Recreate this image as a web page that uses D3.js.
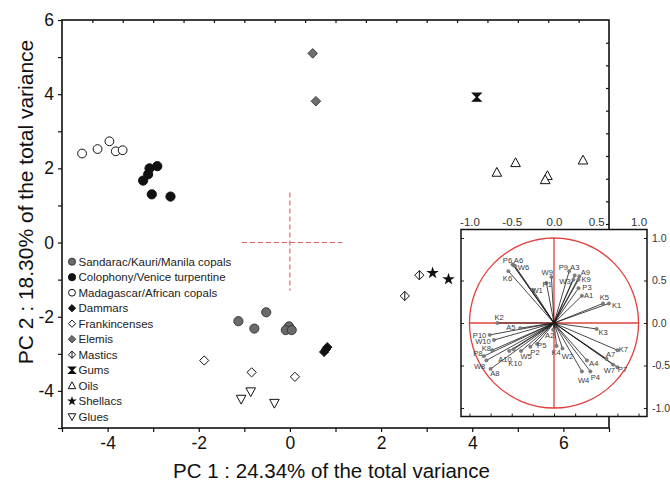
<!DOCTYPE html>
<html><head><meta charset="utf-8">
<script src="https://cdn.jsdelivr.net/npm/d3@7"></script>
<style>body{margin:0;background:#fff} svg{display:block;font-family:"Liberation Sans",Arial,sans-serif}</style>
</head><body><svg id="c" width="670" height="481"></svg>
<script>
// ---------- data ----------
const legendLabels = ["Sandarac/Kauri/Manila copals","Colophony/Venice turpentine","Madagascar/African copals","Dammars","Frankincenses","Elemis","Mastics","Gums","Oils","Shellacs","Glues"];
const sandarac   = [[-1.13,-2.12],[-0.52,-1.88],[-0.78,-2.32],[-0.02,-2.26],[-0.09,-2.36],[0.04,-2.36]];
const colophony  = [[-3.08,2.00],[-2.91,2.06],[-3.11,1.84],[-3.22,1.67],[-3.03,1.30],[-2.62,1.24]];
const madagascar = [[-4.56,2.40],[-4.22,2.52],[-3.96,2.73],[-3.82,2.46],[-3.67,2.49]];
const dammars    = [[0.75,-2.95],[0.79,-2.88],[0.82,-2.82]];
const frankincenses = [[-1.88,-3.18],[-0.84,-3.50],[0.11,-3.62]];
const elemis     = [[0.50,5.10],[0.57,3.81]];
const mastics    = [[2.52,-1.44],[2.84,-0.88]];
const gums       = [[4.10,3.92]];
const oils       = [[4.54,1.89],[4.95,2.15],[5.65,1.80],[5.60,1.69],[6.43,2.22]];
const shellacs   = [[3.13,-0.82],[3.48,-0.99]];
const glues      = [[-0.86,-4.02],[-1.07,-4.22],[-0.34,-4.33]];
const xTicks = [-4,-2,0,2,4,6];
const yTicks = [-4,-2,0,2,4,6];
const xTitle = "PC 1 : 24.34% of the total variance";
const yTitle = "PC 2 : 18.30% of the total variance";
const crossH = [-1.05, 1.15];   // dashed cross, PC1 extent at PC2 = 0
const crossV = [1.35, -1.30];   // dashed cross, PC2 extent at PC1 = 0
// loadings: name, x, y, label x, label y (circle-of-correlations units)
const loadNames = ["P6","A6","W6","K6","W1","W9","P1","P9","A3","A9","W3","K9","P3","A1","K5","K1","K2","A5","K3","P10","W10","K8","P8","W8","A8","A10","K10","W5","P2","P5","A2","K4","W2","A4","W4","P4","K7","A7","W7","P7"];
const loadX  = [-0.49,-0.48,-0.46,-0.54,-0.25,-0.03,-0.09,0.18,0.245,0.30,0.23,0.29,0.29,0.33,0.58,0.65,-0.67,-0.40,0.505,-0.76,-0.71,-0.73,-0.83,-0.80,-0.75,-0.53,-0.48,-0.39,-0.28,-0.20,-0.01,0.03,0.10,0.39,0.33,0.43,0.75,0.62,0.70,0.75];
const loadY  = [0.69,0.68,0.67,0.61,0.39,0.54,0.47,0.61,0.56,0.55,0.51,0.51,0.41,0.32,0.23,0.23,0.00,-0.06,-0.07,-0.14,-0.20,-0.32,-0.39,-0.44,-0.54,-0.33,-0.31,-0.33,-0.28,-0.245,-0.08,-0.27,-0.30,-0.44,-0.57,-0.57,-0.32,-0.42,-0.49,-0.52];
const labX   = [-0.55,-0.42,-0.36,-0.55,-0.20,-0.08,-0.08,0.11,0.245,0.37,0.13,0.38,0.39,0.41,0.595,0.74,-0.65,-0.51,0.58,-0.88,-0.84,-0.80,-0.90,-0.88,-0.70,-0.58,-0.46,-0.33,-0.225,-0.145,-0.05,0.025,0.16,0.47,0.35,0.49,0.82,0.67,0.655,0.81];
const labY   = [0.74,0.74,0.65,0.52,0.39,0.60,0.46,0.65,0.65,0.60,0.49,0.51,0.42,0.32,0.30,0.205,0.07,-0.05,-0.11,-0.14,-0.22,-0.30,-0.355,-0.51,-0.59,-0.43,-0.47,-0.395,-0.34,-0.265,-0.14,-0.35,-0.39,-0.47,-0.67,-0.64,-0.31,-0.37,-0.56,-0.545];
const insetTicks = [-1.0,-0.5,0.0,0.5,1.0];

// ---------- drawing ----------
const svg = d3.select("#c");
const L=62,R=609,T=20,B=428;
const x = d3.scaleLinear().domain([-5,7]).range([L,R]);
const y = d3.scaleLinear().domain([-5,6]).range([B,T]);
const xs2 = d3.scaleLinear().domain([0,18]).range([L,R]);
const ys2 = d3.scaleLinear().domain([0,18]).range([B,T]);

// ticks
const gx = svg.append("g").attr("transform",`translate(0,${B})`)
  .call(d3.axisBottom(x).tickValues(d3.range(-5,8,1)).tickSize(4).tickFormat(d=>xTicks.includes(d)?String(d):""));
gx.selectAll("text").attr("font-size",17.5).attr("fill","#111").attr("dy","0.95em").attr("y",4);
const gy = svg.append("g").attr("transform",`translate(${L},0)`)
  .call(d3.axisLeft(y).tickValues(d3.range(-5,7,1)).tickSize(4).tickFormat(d=>yTicks.includes(d)?String(d):""));
gy.selectAll("text").attr("font-size",17.5).attr("fill","#111").attr("x",-8);
svg.append("g").attr("transform",`translate(0,${T})`)
  .call(d3.axisBottom(xs2).tickValues(d3.range(1,18)).tickSize(3).tickFormat(""));
svg.append("g").attr("transform",`translate(${R},0)`)
  .call(d3.axisLeft(ys2).tickValues(d3.range(1,18)).tickSize(3).tickFormat(""));
svg.selectAll(".domain").remove();
svg.selectAll(".tick line").attr("stroke","#111").attr("stroke-width",1.2);

svg.append("rect").attr("x",L).attr("y",T).attr("width",R-L).attr("height",B-T)
  .attr("fill","none").attr("stroke","#111").attr("stroke-width",1.6);

// titles
svg.append("text").attr("x",(L+R)/2-4).attr("y",478).attr("text-anchor","middle")
  .attr("font-size",20.5).attr("fill","#111").text(xTitle);
svg.append("text").attr("transform",`translate(33,${(T+B)/2-22}) rotate(-90)`).attr("text-anchor","middle")
  .attr("font-size",21).attr("fill","#111").text(yTitle);

// dashed cross
const red="#e0403c";
svg.append("line").attr("x1",x(crossH[0])).attr("x2",x(crossH[1])).attr("y1",y(0)).attr("y2",y(0))
  .attr("stroke","#e06060").attr("stroke-width",1.1).attr("stroke-dasharray","5,3");
svg.append("line").attr("x1",x(0)).attr("x2",x(0)).attr("y1",y(crossV[0])).attr("y2",y(crossV[1]))
  .attr("stroke","#e06060").attr("stroke-width",1.1).attr("stroke-dasharray","5,3");

// symbols
function sym(g, type, s){
  const k=s||1;
  switch(type){
    case "circGrey": g.append("circle").attr("r",4.6*k).attr("fill","#6a6a6a").attr("stroke","#333").attr("stroke-width",0.9); break;
    case "circBlack": g.append("circle").attr("r",4.6*k).attr("fill","#111").attr("stroke","#111"); break;
    case "circOpen": g.append("circle").attr("r",4.4*k).attr("fill","#fff").attr("stroke","#111").attr("stroke-width",1); break;
    case "diaBlack": g.append("path").attr("d",dia(4.6*k)).attr("fill","#111").attr("stroke","#111"); break;
    case "diaOpen": g.append("path").attr("d",dia(4.6*k)).attr("fill","#fff").attr("stroke","#111").attr("stroke-width",1); break;
    case "diaGrey": g.append("path").attr("d",dia(4.8*k)).attr("fill","#6e6e6e").attr("stroke","#333").attr("stroke-width",0.9); break;
    case "diaCross": g.append("path").attr("d",dia(4.6*k)+`M0,${-4.6*k}L0,${4.6*k}`).attr("fill","#fff").attr("stroke","#111").attr("stroke-width",1); break;
    case "hour": g.append("path").attr("d",`M${-4*k},${-4*k}L${4*k},${-4*k}L0,0L${4*k},${4*k}L${-4*k},${4*k}L0,0Z`).attr("fill","#111").attr("stroke","#111").attr("stroke-width",1.4); break;
    case "triUp": g.append("path").attr("d",`M0,${-5*k}L${4.8*k},${3.8*k}L${-4.8*k},${3.8*k}Z`).attr("fill","#fff").attr("stroke","#111").attr("stroke-width",1); break;
    case "triDown": g.append("path").attr("d",`M0,${5*k}L${4.8*k},${-3.8*k}L${-4.8*k},${-3.8*k}Z`).attr("fill","#fff").attr("stroke","#111").attr("stroke-width",1); break;
    case "star": g.append("path").attr("d",d3.symbol(d3.symbolStar, 48*k*k)()).attr("fill","#111"); break;
  }
}
function dia(r){return `M0,${-r}L${r},0L0,${r}L${-r},0Z`;}
const series = [
  [sandarac,"circGrey"],[colophony,"circBlack"],[madagascar,"circOpen"],[dammars,"diaBlack"],
  [frankincenses,"diaOpen"],[elemis,"diaGrey"],[mastics,"diaCross"],[gums,"hour"],
  [oils,"triUp"],[shellacs,"star"],[glues,"triDown"]];
series.forEach(([pts,t])=>{
  pts.forEach(p=>{ const g=svg.append("g").attr("transform",`translate(${x(p[0])},${y(p[1])})`); sym(g,t,1); });
});

// legend
const leg = svg.append("g");
legendLabels.forEach((lab,i)=>{
  const yy = 261.7 + i*15.5;
  const g = leg.append("g").attr("transform",`translate(72,${yy})`);
  sym(g, series[i][1], 0.78);
  leg.append("text").attr("x",78.5).attr("y",yy).attr("dy","0.36em").attr("font-size",11.5).attr("fill","#222").text(lab);
});

// ---------- inset ----------
const ix = d3.scaleLinear().domain([-1.1,1.1]).range([461,647]);
const iy = d3.scaleLinear().domain([-1.1,1.1]).range([416.5,229.5]);
const ins = svg.append("g");
ins.append("rect").attr("x",461).attr("y",229.5).attr("width",186).attr("height",187).attr("fill","#fff");
ins.append("g").attr("transform",`translate(0,${iy.range()[0]})`).call(d3.axisTop(ix).tickValues(d3.range(-1,1.01,0.25)).tickSize(3).tickFormat(""));
ins.append("g").attr("transform",`translate(${ix.range()[0]},0)`).call(d3.axisRight(iy).tickValues(insetTicks).tickSize(3).tickFormat(""));
ins.append("g").attr("transform",`translate(${ix.range()[1]},0)`).call(d3.axisLeft(iy).tickValues(insetTicks).tickSize(3).tickFormat(""));
ins.append("g").attr("transform",`translate(0,${iy.range()[1]})`).call(d3.axisTop(ix).tickValues(insetTicks).tickSize(0).tickPadding(4).tickFormat(d=>d.toFixed(1)))
  .selectAll("text").attr("font-size",11.5).attr("fill","#333");
ins.append("g").attr("transform",`translate(${ix.range()[1]},0)`).call(d3.axisRight(iy).tickValues(insetTicks).tickSize(0).tickPadding(5).tickFormat(d=>d.toFixed(1)))
  .selectAll("text").attr("font-size",10.5).attr("fill","#333");
ins.selectAll(".domain").remove();
ins.selectAll(".tick line").attr("stroke","#222").attr("stroke-width",1);
// circle + axes
const cx=ix(0), cy=iy(0);
ins.append("ellipse").attr("cx",cx).attr("cy",cy).attr("rx",ix(1)-cx).attr("ry",cy-iy(1))
  .attr("fill","none").attr("stroke",red).attr("stroke-width",1.3);
ins.append("line").attr("x1",ix(-1)).attr("x2",ix(1)).attr("y1",cy).attr("y2",cy).attr("stroke",red).attr("stroke-width",1.3);
ins.append("line").attr("x1",cx).attr("x2",cx).attr("y1",iy(1)).attr("y2",iy(-1)).attr("stroke",red).attr("stroke-width",1.3);
// vectors
loadNames.forEach((n,i)=>{
  ins.append("line").attr("x1",cx).attr("y1",cy).attr("x2",ix(loadX[i])).attr("y2",iy(loadY[i]))
    .attr("stroke","#1a1a1a").attr("stroke-width",0.8);
});
loadNames.forEach((n,i)=>{
  ins.append("circle").attr("cx",ix(loadX[i])).attr("cy",iy(loadY[i])).attr("r",1.7)
    .attr("fill","#808080").attr("stroke","#555").attr("stroke-width",0.4);
  ins.append("text").attr("x",ix(labX[i])).attr("y",iy(labY[i])).attr("dy","0.35em").attr("text-anchor","middle")
    .attr("font-size",7.6).attr("fill","#3a3a3a").text(n);
});
ins.append("rect").attr("x",461).attr("y",229.5).attr("width",186).attr("height",187)
  .attr("fill","none").attr("stroke","#111").attr("stroke-width",1.5);
</script></body></html>
